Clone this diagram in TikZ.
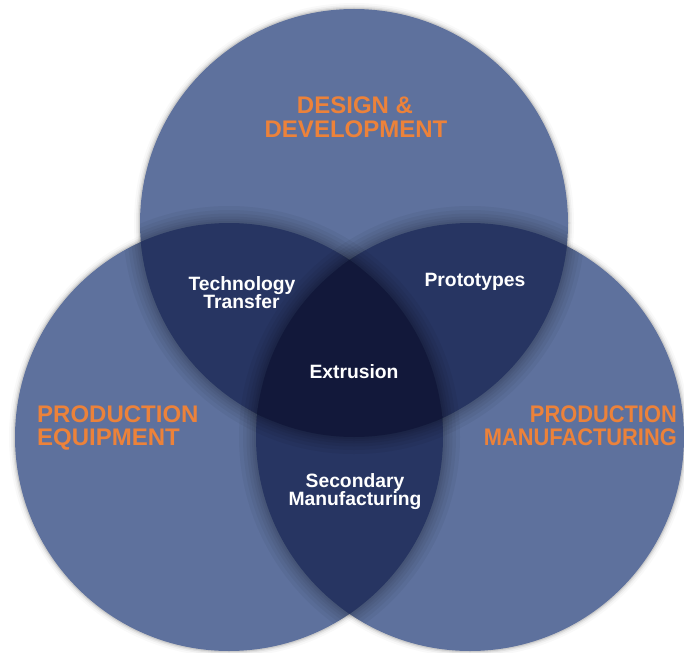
\documentclass[tikz,border=0pt]{standalone}
\usepackage{fontspec}
\setmainfont{Liberation Sans}
\usepackage{graphicx}
\definecolor{singlefill}{RGB}{94,113,157}
\definecolor{doublefill}{RGB}{39,53,98}
\definecolor{triplefill}{RGB}{18,24,58}
\definecolor{labelorange}{RGB}{236,130,58}
\tikzset{
  setlabel/.style={font=\fontsize{24}{24}\selectfont\bfseries, text=labelorange, inner sep=0pt},
  lenslabel/.style={font=\fontsize{19.3}{19}\selectfont\bfseries, text=white, inner sep=0pt},
}
% blurred dark stroke along the rim of a circle
\newcommand{\rimshade}[2]{%
  \foreach \w in {34,26,19,13,8,4}{
    \draw[black, line width=\w pt, opacity=#2] (#1) circle (\rr);
  }%
}
\begin{document}
\begin{tikzpicture}[x=1pt,y=-1pt]
\useasboundingbox (0,0) rectangle (684,652);
\fill[white] (0,0) rectangle (684,652);
\coordinate (T) at (354,223);
\coordinate (L) at (229,437);
\coordinate (R) at (470,437);
\def\rr{214}
% soft drop shadow on the white ground
\foreach \w/\o in {12/0.025,8/0.04,5/0.06,2.5/0.09}{
  \foreach \c in {T,L,R}{
    \draw[black, line width=\w pt, opacity=\o] (\c) circle (\rr);
  }
}
% single circles
\fill[singlefill] (T) circle (\rr) (L) circle (\rr) (R) circle (\rr);
% shadows cast by the lenses onto the single areas
\begin{scope}\clip (T) circle (\rr); \rimshade{L}{0.045} \rimshade{R}{0.045} \end{scope}
\begin{scope}\clip (L) circle (\rr); \rimshade{T}{0.045} \rimshade{R}{0.045} \end{scope}
\begin{scope}\clip (R) circle (\rr); \rimshade{T}{0.045} \rimshade{L}{0.045} \end{scope}
% pairwise overlaps
\begin{scope}
  \clip (L) circle (\rr);
  \fill[doublefill] (R) circle (\rr);
\end{scope}
\begin{scope}
  \clip (T) circle (\rr);
  \fill[doublefill] (L) circle (\rr) (R) circle (\rr);
\end{scope}
% shadows cast by the centre onto the lenses
\begin{scope}\clip (T) circle (\rr); \clip (L) circle (\rr); \rimshade{R}{0.05} \end{scope}
\begin{scope}\clip (T) circle (\rr); \clip (R) circle (\rr); \rimshade{L}{0.05} \end{scope}
\begin{scope}\clip (L) circle (\rr); \clip (R) circle (\rr); \rimshade{T}{0.05} \end{scope}
% triple overlap
\begin{scope}
  \clip (T) circle (\rr);
  \clip (L) circle (\rr);
  \fill[triplefill] (R) circle (\rr);
\end{scope}
% labels
\node[setlabel, anchor=base] (dd1) at (355,113.5) {DESIGN \&};
\node[setlabel, anchor=base] (dd2) at (356,137.5) {DEVELOPMENT};
\node[setlabel, anchor=base west] (pe1) at (37,422) {PRODUCTION};
\node[setlabel, anchor=base west] (pe2) at (37,445) {EQUIPMENT};
\node[setlabel, anchor=base east] (pm1) at (677,422) {\scalebox{0.91}[1]{PRODUCTION}};
\node[setlabel, anchor=base east] (pm2) at (677,445) {\scalebox{0.91}[1]{MANUFACTURING}};
\node[lenslabel, anchor=base] (tt1) at (242,290) {Technology};
\node[lenslabel, anchor=base] (tt2) at (241.5,308) {Transfer};
\node[lenslabel, anchor=base] (pr) at (475,286) {Prototypes};
\node[lenslabel, anchor=base] (ex) at (354,378) {Extrusion};
\node[lenslabel, anchor=base] (sm1) at (355,487) {Secondary};
\node[lenslabel, anchor=base] (sm2) at (355,505) {Manufacturing};
\end{tikzpicture}
\end{document}
